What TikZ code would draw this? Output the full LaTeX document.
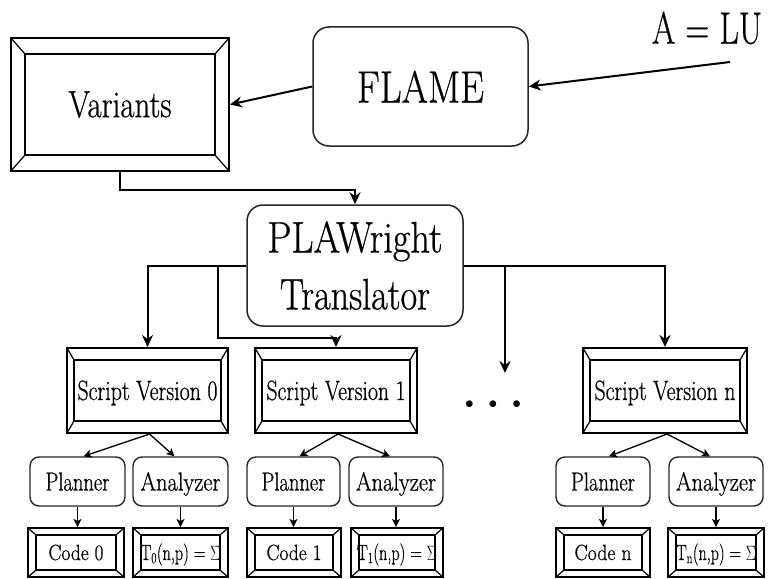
\documentclass[tikz,border=0pt]{standalone}
\usepackage{fontspec}
\usepackage{graphicx}
\setmainfont{Latin Modern Roman}[FakeBold=0.7]
\newcommand{\fitw}[2]{\resizebox{#1}{\height}{#2}}
\usetikzlibrary{arrows.meta}
\tikzset{
  bevel/.style 2 args={draw, line width=2pt, inner sep=0pt, path picture={
    \draw[line width=1.6pt] ([shift={(#1pt,-#2pt)}]path picture bounding box.north west) rectangle ([shift={(-#1pt,#2pt)}]path picture bounding box.south east);
    \draw[line width=1.2pt] (path picture bounding box.north west) -- ++(#1pt,-#2pt)
      (path picture bounding box.north east) -- ++(-#1pt,-#2pt)
      (path picture bounding box.south west) -- ++(#1pt,#2pt)
      (path picture bounding box.south east) -- ++(-#1pt,#2pt);
  }},
  rbox/.style={draw=black!85, rounded corners=16pt, line width=1.5pt, inner sep=0pt},
  sbox/.style={draw=black!85, rounded corners=9pt, line width=1.4pt, inner sep=0pt,
    minimum height=49pt, text height=18pt, text depth=0pt, font=\fontsize{26}{26}\selectfont},
  scriptbox/.style={bevel={7}{12}, minimum height=85pt, text height=19pt, text depth=0pt,
    font=\fontsize{28}{28}\selectfont},
  codebox/.style={bevel={8}{7}, minimum height=49pt, text height=15pt, text depth=0pt,
    font=\fontsize{22}{22}\selectfont},
  arr/.style={line width=2pt, -{Stealth[length=12pt,width=11pt,inset=4pt]}},
  sarr/.style={line width=1.3pt, -{Stealth[length=8pt,width=8pt,inset=2pt]}},
}
\begin{document}
\begin{tikzpicture}[x=1pt,y=-1pt]
\useasboundingbox[fill=white] (0,0) rectangle (770,578);

% top row
\node[bevel={14}{16}, minimum width=218pt, minimum height=133pt, font=\fontsize{38}{38}\selectfont] (variants) at (120,104.5) {\fitw{103pt}{Variants}};
\node[rbox, minimum width=215pt, minimum height=119pt, font=\fontsize{45}{45}\selectfont] (flame) at (420.5,86.5) {\fitw{127pt}{FLAME}};
\node[inner sep=0pt, font=\fontsize{45}{45}\selectfont] (alu) at (707,28) {\fitw{110pt}{A = LU}};
\coordinate (alustart) at (730,62);

% translator
\node[rbox, minimum width=216pt, minimum height=121pt, align=center, font=\fontsize{44}{57}\selectfont] (plaw) at (355,265.5) {\fitw{175pt}{PLAWright}\\\fitw{150pt}{Translator}};

% script versions
\node[scriptbox, minimum width=161pt] (s0) at (147.5,390.5) {\fitw{140pt}{Script Version 0}};
\node[scriptbox, minimum width=162pt] (s1) at (336,390.5) {\fitw{139pt}{Script Version 1}};
\node[scriptbox, minimum width=164pt] (sn) at (665,390.5) {\fitw{141pt}{Script Version n}};
\node[inner sep=0pt, font=\fontsize{17}{17}\selectfont] (dots) at (493,405) {$\bullet$\hspace{15pt}$\bullet$\hspace{15pt}$\bullet$};
\coordinate (dotstip) at (505,373);

% planners and analyzers
\node[sbox, minimum width=95pt] (p0) at (77.5,481.5) {\fitw{64pt}{Planner}};
\node[sbox, minimum width=95pt] (a0) at (180.5,481.5) {\fitw{80pt}{Analyzer}};
\node[sbox, minimum width=93pt] (p1) at (293.5,481.5) {\fitw{64pt}{Planner}};
\node[sbox, minimum width=94pt] (a1) at (396,481.5) {\fitw{80pt}{Analyzer}};
\node[sbox, minimum width=94pt] (pn) at (603,481.5) {\fitw{64pt}{Planner}};
\node[sbox, minimum width=94pt] (an) at (716,481.5) {\fitw{80pt}{Analyzer}};

% codes
\node[codebox, minimum width=96pt] (c0) at (76,552.5) {\fitw{55pt}{Code 0}};
\node[codebox, minimum width=95pt] (t0) at (180.5,552.5) {\fitw{80pt}{T\textsubscript{0}(n,p) = $\Sigma$}};
\node[codebox, minimum width=94pt] (c1) at (294,552.5) {\fitw{55pt}{Code 1}};
\node[codebox, minimum width=92pt] (t1) at (397,552.5) {\fitw{80pt}{T\textsubscript{1}(n,p) = $\Sigma$}};
\node[codebox, minimum width=94pt] (cn) at (603,552.5) {\fitw{57pt}{Code n}};
\node[codebox, minimum width=96pt] (tn) at (716,552.5) {\fitw{80pt}{T\textsubscript{n}(n,p) = $\Sigma$}};

% connectors
\draw[arr] (alustart) -- (flame.east);
\draw[arr] (flame.west) -- (variants.east);
\draw[arr] (variants.south) -- ++(0,18) -| (plaw.north);
\draw[arr] (plaw.west) -| (s0.north);
\coordinate (b1) at (218,265.5);
\draw[arr] (b1) -- ++(0,72) -| (s1.north);
\draw[arr] (plaw.east) -| (sn.north);
\coordinate (b2) at (505,265.5);
\draw[arr] (b2) -- (dotstip);

\foreach \s/\p/\a/\c/\t in {s0/p0/a0/c0/t0, s1/p1/a1/c1/t1, sn/pn/an/cn/tn}{
  \draw[sarr] ([xshift=2pt]\s.south) -- ([xshift=6pt]\p.north);
  \draw[sarr] ([xshift=2pt]\s.south) -- ([xshift=-6pt]\a.north);
  \draw[sarr] (\p.south) -- (\p.south |- \c.north);
  \draw[sarr] (\a.south) -- (\a.south |- \t.north);
}
\end{tikzpicture}
\end{document}
